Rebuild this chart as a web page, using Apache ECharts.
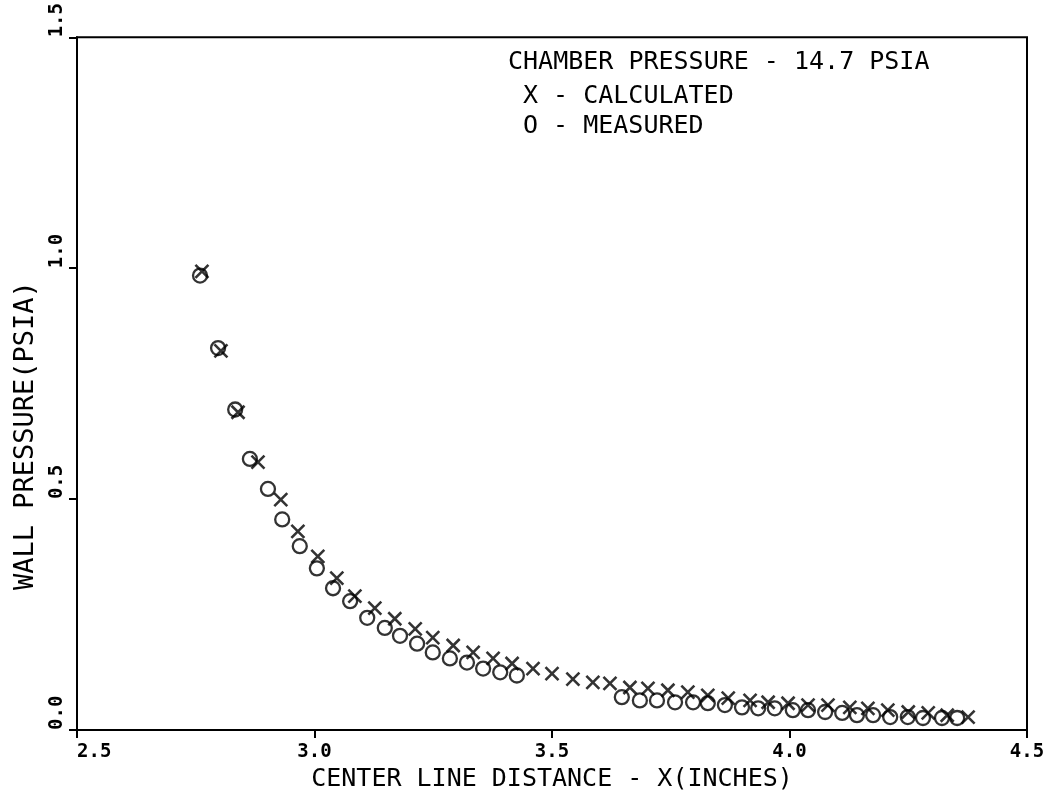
<!DOCTYPE html>
<html>
<head>
<meta charset="utf-8">
<script src="https://cdn.jsdelivr.net/npm/echarts@6/dist/echarts.min.js"></script>
<style>
html,body{margin:0;padding:0;background:#fff;}
#chart{width:1055px;height:804px;}
</style>
</head>
<body>
<div id="chart"></div>
<script>
// Data
const calcX = [2.763, 2.803, 2.839, 2.881, 2.929, 2.965, 3.007, 3.047, 3.085, 3.127,
  3.169, 3.212, 3.249, 3.292, 3.334, 3.376, 3.416, 3.460, 3.500, 3.544,
  3.586, 3.622, 3.664, 3.702, 3.744, 3.786, 3.828, 3.871, 3.917, 3.955,
  3.997, 4.039, 4.081, 4.127, 4.165, 4.207, 4.250, 4.292, 4.332, 4.376];
const calcY = [0.993, 0.821, 0.688, 0.580, 0.499, 0.430, 0.376, 0.329, 0.290, 0.264,
  0.241, 0.219, 0.200, 0.183, 0.168, 0.155, 0.144, 0.133, 0.122, 0.110,
  0.103, 0.101, 0.092, 0.090, 0.086, 0.082, 0.075, 0.069, 0.064, 0.060,
  0.058, 0.054, 0.054, 0.049, 0.047, 0.043, 0.039, 0.037, 0.032, 0.028];
const measX = [2.759, 2.797, 2.833, 2.864, 2.902, 2.932, 2.969, 3.005, 3.039, 3.075,
  3.111, 3.148, 3.180, 3.216, 3.249, 3.285, 3.321, 3.355, 3.391, 3.426,
  3.647, 3.685, 3.721, 3.759, 3.797, 3.828, 3.864, 3.900, 3.934, 3.969,
  4.007, 4.039, 4.075, 4.111, 4.142, 4.176, 4.212, 4.249, 4.281, 4.321, 4.353];
const measY = [0.984, 0.827, 0.694, 0.587, 0.522, 0.456, 0.398, 0.350, 0.307, 0.279,
  0.243, 0.221, 0.204, 0.187, 0.168, 0.155, 0.146, 0.133, 0.125, 0.118,
  0.071, 0.064, 0.064, 0.060, 0.060, 0.058, 0.054, 0.049, 0.047, 0.047,
  0.043, 0.043, 0.039, 0.037, 0.032, 0.032, 0.028, 0.028, 0.026, 0.026, 0.026];
const xTicks = [2.5, 3.0, 3.5, 4.0, 4.5];
const yTicks = [0.0, 0.5, 1.0, 1.5];
const annotationLines = ['CHAMBER PRESSURE - 14.7 PSIA', 'X - CALCULATED', 'O - MEASURED'];
const xTitle = 'CENTER LINE DISTANCE - X(INCHES)';
const yTitle = 'WALL PRESSURE(PSIA)';

const FONT = '"DejaVu Sans Mono", "Liberation Mono", monospace';
const calcData = calcX.map((x, i) => [x, calcY[i]]);
const measData = measX.map((x, i) => [x, measY[i]]);

const chart = echarts.init(document.getElementById('chart'), null, {renderer: 'canvas'});
chart.setOption({
  animation: false,
  backgroundColor: '#fff',
  grid: {left: 77, right: 28, top: 32, bottom: 74, show: true, borderColor: '#000', borderWidth: 2, containLabel: false},
  xAxis: {
    type: 'value', min: 2.5, max: 4.5, interval: 0.5,
    name: xTitle, nameLocation: 'middle', nameGap: 27,
    nameTextStyle: {fontFamily: FONT, fontSize: 25, color: '#000'},
    axisLine: {lineStyle: {color: '#000', width: 2}},
    axisTick: {show: true, length: 8, inside: false, lineStyle: {color: '#000', width: 2}},
    splitLine: {show: false},
    axisLabel: {
      color: '#000', fontFamily: FONT, fontSize: 19, fontWeight: 'bold', margin: 13,
      alignMinLabel: 'left',
      formatter: v => { const t = xTicks.find(a => Math.abs(a - v) < 1e-9); return t === undefined ? '' : t.toFixed(1); }
    }
  },
  yAxis: {
    type: 'value', min: 0, max: 1.5, interval: 0.5,
    name: yTitle, nameLocation: 'middle', nameGap: 38,
    nameTextStyle: {fontFamily: FONT, fontSize: 27, color: '#000', padding: [0, 104, 0, 0]},
    axisLine: {show: true, lineStyle: {color: '#000', width: 2}},
    axisTick: {show: true, length: 8, inside: false, lineStyle: {color: '#000', width: 2}},
    splitLine: {show: false},
    axisLabel: {
      color: '#000', fontFamily: FONT, fontSize: 19, fontWeight: 'bold', margin: 10,
      rotate: 90, align: 'left', verticalAlign: 'bottom',
      formatter: v => { const t = yTicks.find(a => Math.abs(a - v) < 1e-9); return t === undefined ? '' : t.toFixed(1); }
    }
  },
  graphic: annotationLines.map((t, i) => ({
    type: 'text',
    left: i === 0 ? 508 : 523,
    top: [50, 84, 114][i],
    silent: true,
    style: {text: t, fill: '#000', font: '25px ' + FONT}
  })),
  series: [
    {
      name: 'MEASURED', type: 'scatter', data: measData,
      symbol: 'circle', symbolSize: 14,
      itemStyle: {color: 'rgba(0,0,0,0)', borderColor: '#000', borderWidth: 2.3}
    },
    {
      name: 'CALCULATED', type: 'scatter', data: calcData,
      symbol: 'path://M0,0L10,10M10,0L0,10', symbolSize: 13,
      itemStyle: {color: 'rgba(0,0,0,0)', borderColor: '#000', borderWidth: 2.6}
    }
  ]
});
</script>
</body>
</html>
